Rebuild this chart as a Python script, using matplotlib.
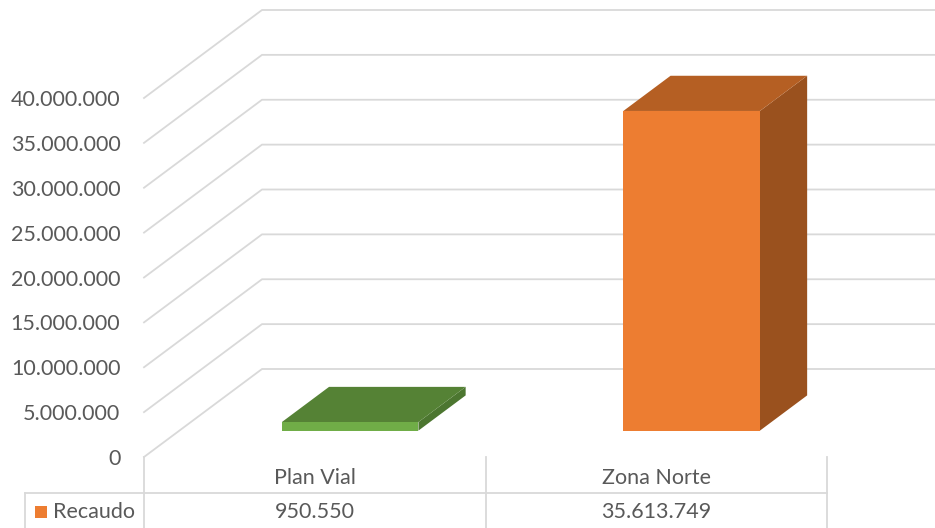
import matplotlib
matplotlib.use("Agg")
import matplotlib.pyplot as plt
from matplotlib.patches import Polygon, Rectangle
from matplotlib import transforms

# data
categories = ["Plan Vial", "Zona Norte"]
recaudo = [950550, 35613749]
value_labels = ["950.550", "35.613.749"]
series_name = "Recaudo"
y_ticks = [0, 5000000, 10000000, 15000000, 20000000, 25000000, 30000000, 35000000, 40000000]
y_tick_labels = ["0", "5.000.000", "10.000.000", "15.000.000", "20.000.000",
                 "25.000.000", "30.000.000", "35.000.000", "40.000.000"]

# colours (Excel-ish 3D bar faces)
front_colors = ["#70AD47", "#ED7D31"]
top_colors = ["#558235", "#B55F23"]
side_colors = ["#4C7630", "#9A511E"]
legend_color = "#ED7D31"
grid_color = "#D9D9D9"
text_color = "#595959"

plt.rcParams["font.family"] = ["Lato", "DejaVu Sans"]
FS = 15.5

W, H = 935, 528
fig = plt.figure(figsize=(W / 100, H / 100), dpi=100)

# front plane of the 3D box, in pixels of the picture
left_px, right_px, bottom_px, top_px = 144, 827, 457, 98
ax = fig.add_axes([left_px / W, (H - bottom_px) / H,
                   (right_px - left_px) / W, (bottom_px - top_px) / H])
ax.set_xlim(-0.5, len(categories) - 0.5)
ax.set_ylim(0, 40000000)
for s in ax.spines.values():
    s.set_visible(False)
ax.set_facecolor("none")

# depth of the box (118 px to the right, 88 px up) in data units
DX = 118 / ((right_px - left_px) / len(categories))
DY = 88 / (bottom_px - top_px) * 40000000

# gridlines: side wall diagonal + back wall horizontal
x_back_end = len(categories) - 0.5 + DX
for v in y_ticks:
    ax.plot([-0.5, -0.5 + DX, x_back_end], [v, v + DY, v + DY],
            color=grid_color, lw=1.3, clip_on=False, zorder=1)

ax.set_yticks(y_ticks)
ax.set_yticklabels(y_tick_labels)
ax.set_xticks([])
ax.tick_params(axis="y", length=0, pad=17, labelsize=FS, labelcolor=text_color)

# 3D bars
bar_w = 0.4
f0, f1 = 0.3, 0.7
ddx, ddy = (f1 - f0) * DX, (f1 - f0) * DY
for i, v in enumerate(recaudo):
    xl = i - bar_w / 2 + f0 * DX
    yb = f0 * DY
    ax.add_patch(Polygon([(xl + bar_w, yb), (xl + bar_w, yb + v),
                          (xl + bar_w + ddx, yb + v + ddy), (xl + bar_w + ddx, yb + ddy)],
                         closed=True, fc=side_colors[i], ec="none", clip_on=False, zorder=3))
    ax.add_patch(Polygon([(xl, yb + v), (xl + bar_w, yb + v),
                          (xl + bar_w + ddx, yb + v + ddy), (xl + ddx, yb + v + ddy)],
                         closed=True, fc=top_colors[i], ec="none", clip_on=False, zorder=3))
    ax.add_patch(Rectangle((xl, yb), bar_w, v, fc=front_colors[i], ec="none",
                           clip_on=False, zorder=4))

# data table under the chart (x from the category axis, y in pixels)
tab = fig.add_axes([0, 0, 1, 1])
tab.set_xlim(0, W)
tab.set_ylim(H, 0)
tab.axis("off")
tab.patch.set_visible(False)
mix = transforms.blended_transform_factory(ax.transData, tab.transData)

for xb in [-0.5 + k for k in range(len(categories) + 1)]:
    tab.plot([xb, xb], [bottom_px, H], color=grid_color, lw=1.3, transform=mix)
tab.plot([25, 25], [493, H], color=grid_color, lw=1.3)
tab.plot([25, right_px], [493, 493], color=grid_color, lw=1.3)

for i, (cat, lab) in enumerate(zip(categories, value_labels)):
    tab.text(i, 478, cat, transform=mix, ha="center", va="center",
             fontsize=FS, color=text_color)
    tab.text(i, 512, lab, transform=mix, ha="center", va="center",
             fontsize=FS, color=text_color)

tab.add_patch(Rectangle((35, 506), 12, 12, fc=legend_color, ec="none"))
tab.text(53, 512, series_name, ha="left", va="center", fontsize=FS, color=text_color)

fig.savefig("out.png", dpi=100)
